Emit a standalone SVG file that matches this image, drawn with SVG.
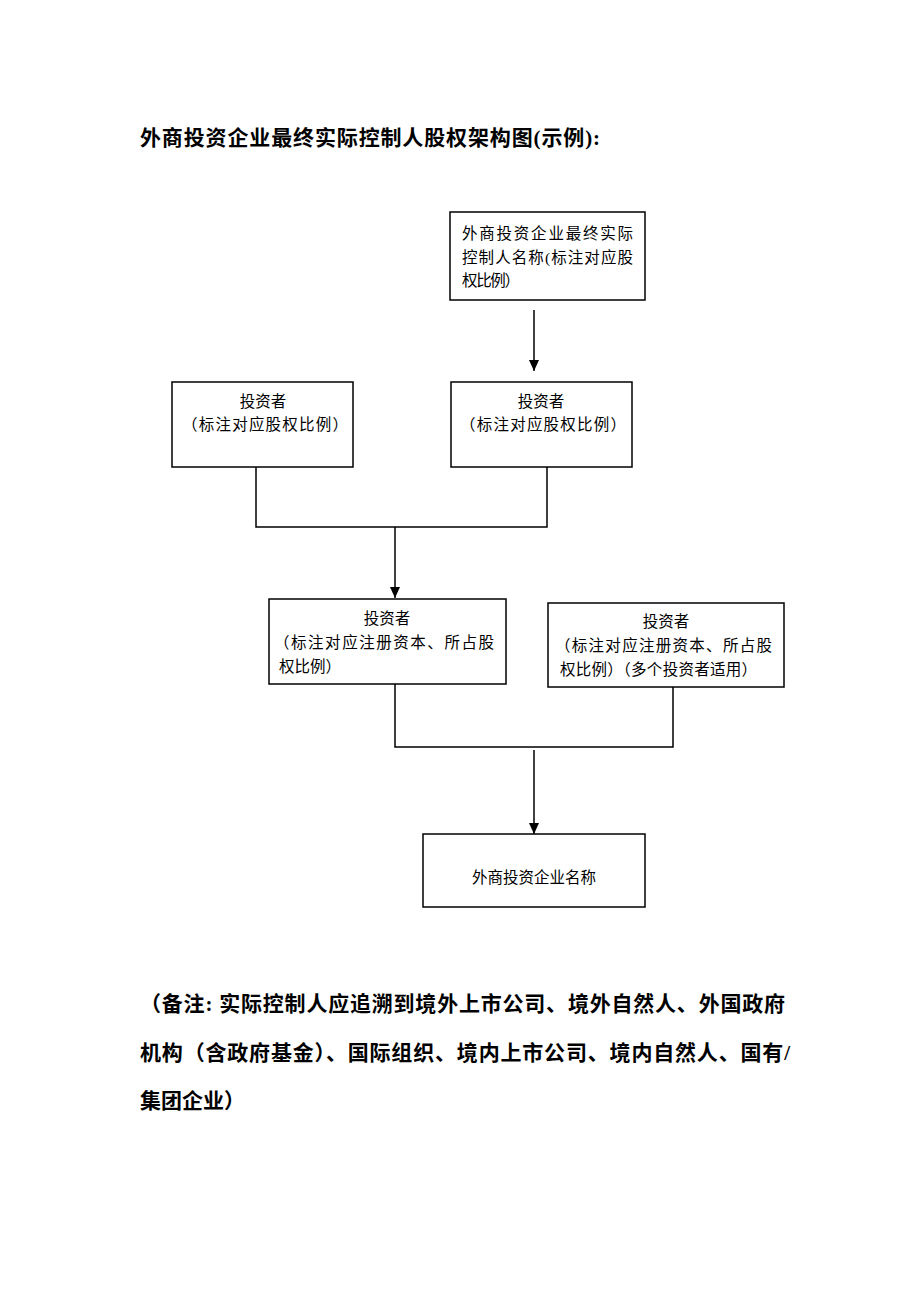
<svg xmlns="http://www.w3.org/2000/svg" width="920" height="1302" viewBox="0 0 920 1302">
<style>
.box{fill:#fff;stroke:#000;stroke-width:1.5}
.t{font-family:"Liberation Serif","Noto Sans CJK SC",serif;font-size:15.5px;fill:#000}
.h{font-family:"Liberation Serif","Noto Sans CJK SC",serif;font-size:21px;font-weight:bold;fill:#000}
.c{text-anchor:middle}
.ln{fill:none;stroke:#000;stroke-width:1.5}
</style>
<defs>
<marker id="arr" markerWidth="10" markerHeight="12" refX="11" refY="5" orient="auto" markerUnits="userSpaceOnUse">
<path d="M0,0 L11,5 L0,10 Z" fill="#000"/>
</marker>
</defs>
<rect width="920" height="1302" fill="#fff"/>
<text class="h" x="140" y="145" textLength="460" lengthAdjust="spacing">外商投资企业最终实际控制人股权架构图(示例):</text>
<g id="connectors">
<line class="ln" x1="534" y1="310" x2="534" y2="371" marker-end="url(#arr)"/>
<polyline class="ln" points="256,467 256,527 547,527 547,467"/>
<line class="ln" x1="395" y1="527" x2="395" y2="598" marker-end="url(#arr)"/>
<polyline class="ln" points="395,684 395,747 673,747 673,687"/>
<line class="ln" x1="534" y1="750" x2="534" y2="834" marker-end="url(#arr)"/>
</g>
<g id="controller">
<rect class="box" x="450" y="212" width="195" height="88"/>
<text class="t" x="462" y="239" textLength="171" lengthAdjust="spacing">外商投资企业最终实际</text>
<text class="t" x="462" y="263" textLength="171" lengthAdjust="spacing">控制人名称(标注对应股</text>
<text class="t" x="462" y="286" textLength="58" lengthAdjust="spacing">权比例）</text>
</g>
<g id="investor1">
<rect class="box" x="172" y="382" width="181" height="85"/>
<text class="t c" x="263" y="407">投资者</text>
<text class="t" x="182" y="430" textLength="166" lengthAdjust="spacing">（标注对应股权比例）</text>
</g>
<g id="investor2">
<rect class="box" x="451" y="382" width="181" height="85"/>
<text class="t c" x="541" y="407">投资者</text>
<text class="t" x="460" y="430" textLength="166" lengthAdjust="spacing">（标注对应股权比例）</text>
</g>
<g id="investor3">
<rect class="box" x="269" y="599" width="237" height="85"/>
<text class="t c" x="387" y="624">投资者</text>
<text class="t" x="274" y="648" textLength="220" lengthAdjust="spacing">（标注对应注册资本、所占股</text>
<text class="t" x="279" y="672" textLength="62" lengthAdjust="spacing">权比例）</text>
</g>
<g id="investor4">
<rect class="box" x="548" y="603" width="236" height="84"/>
<text class="t c" x="666" y="627">投资者</text>
<text class="t" x="555" y="651" textLength="217" lengthAdjust="spacing">（标注对应注册资本、所占股</text>
<text class="t" x="560" y="675" textLength="197" lengthAdjust="spacing">权比例）（多个投资者适用）</text>
</g>
<g id="enterprise">
<rect class="box" x="423" y="834" width="222" height="73"/>
<text class="t c" x="534" y="883">外商投资企业名称</text>
</g>
<g id="note">
<text class="h" x="140" y="1011" textLength="645" lengthAdjust="spacing">（备注: 实际控制人应追溯到境外上市公司、境外自然人、外国政府</text>
<text class="h" x="140" y="1060" textLength="650" lengthAdjust="spacing">机构（含政府基金）、国际组织、境内上市公司、境内自然人、国有/</text>
<text class="h" x="140" y="1108">集团企业）</text>
</g>
</svg>
